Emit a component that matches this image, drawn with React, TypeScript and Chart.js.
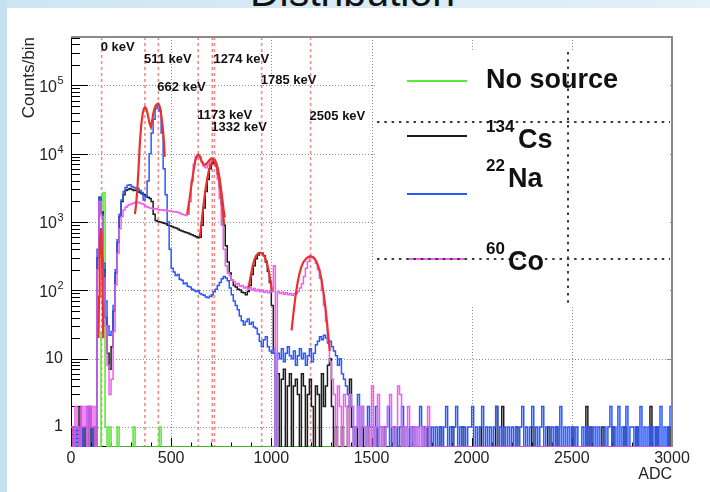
import React, { useEffect, useRef } from 'react';
import { Chart, registerables } from 'chart.js';

Chart.register(...registerables);

const FONT = '"Liberation Sans", Arial, Helvetica, sans-serif';

// ---- axes ----
const X_MIN = 0;
const X_MAX = 3000;
const Y_MIN = 0.51;
const Y_MAX = 5.1e5;
const xTickValues = [0, 500, 1000, 1500, 2000, 2500, 3000];
const xMinorStep = 100;
const yDecadeExponents = [0, 1, 2, 3, 4, 5];

// ---- histogram binning (ADC) ----
const BIN_WIDTH = 10;
const MAIN_START = 0;
const TAIL_START = 1400;

// ---- series counts per bin ----
// No source, bins from 0 ADC
const noSourceMain = [
  0, 0, 0, 0, 0, 0, 0, 0, 0, 0,
  0, 0, 0, 0, 0, 25, 2700, 1, 0, 1,
  0, 0, 0, 1, 0, 0, 0, 0, 0, 0,
  0, 1, 0, 0, 0, 0, 0, 0, 0, 0,
  0, 0, 0, 0, 1, 0, 0, 0, 0, 0,
];

// 134Cs, bins from 0 ADC
const cs134Main = [
  0, 1, 0, 0, 2, 0, 1, 0, 0, 2,
  0, 1, 0, 300, 2300, 1400, 200, 40, 12, 7,
  15, 50, 180, 500, 1200, 2000, 2500, 2900, 3000, 3100,
  3000, 2900, 2950, 2800, 2700, 2600, 2500, 2400, 2300, 2200,
  2000, 1300, 1050, 1020, 1000, 980, 960, 940, 900, 880,
  860, 830, 820, 790, 760, 740, 720, 700, 690, 670,
  650, 630, 610, 590, 600, 900, 1600, 2800, 4200, 6000,
  7200, 7500, 6800, 5000, 3200, 1800, 900, 450, 260, 180,
  140, 118, 112, 104, 101, 94, 92, 86, 96, 118,
  170, 230, 290, 330, 350, 350, 320, 260, 190, 130,
  60, 12, 0, 6, 0, 5, 7, 0, 4, 6,
  0, 4, 5, 3, 0, 6, 4, 0, 3, 5,
  2, 0, 4, 3, 0, 6, 2, 4, 8, 10,
  2, 0, 1, 0, 0, 1, 0, 0, 2, 5,
];
// 134Cs, bins from 1400 ADC
const cs134Tail = [
  1, 0, 1, 0, 0, 1, 0, 0, 1, 0,
  0, 0, 1, 0, 0, 0, 1, 0, 0, 0,
  0, 1, 0, 0, 0, 1, 0, 0, 0, 0,
  1, 0, 0, 0, 0, 0, 1, 0, 1, 0,
  0, 0, 0, 0, 1, 0, 0, 0, 0, 0,
  1, 0, 0, 0, 0, 1, 0, 0, 0, 0,
  0, 0, 0, 0, 1, 0, 0, 0, 0, 0,
  0, 0, 2, 0, 0, 2, 0, 0, 0, 0,
  0, 0, 1, 0, 0, 0, 0, 0, 0, 0,
  1, 0, 0, 0, 0, 0, 0, 0, 1, 0,
  0, 0, 1, 0, 0, 0, 0, 0, 0, 0,
  1, 0, 0, 0, 0, 0, 0, 2, 0, 1,
  0, 0, 0, 0, 0, 1, 0, 0, 0, 0,
  1, 0, 0, 0, 0, 0, 1, 0, 0, 0,
  0, 0, 1, 0, 0, 0, 0, 0, 0, 2,
  0, 0, 1, 0, 0, 0, 0, 0, 1, 0,
];

// 22Na, bins from 0 ADC
const na22Main = [
  0, 0, 1, 0, 0, 1, 0, 0, 2, 0,
  0, 1, 1, 400, 2300, 1300, 250, 70, 30, 22,
  25, 60, 200, 550, 1300, 2100, 2800, 3200, 3450, 3500,
  3300, 3200, 3150, 3100, 2900, 2700, 2100, 2400, 4000, 10000,
  20000, 32000, 46000, 52000, 42000, 20000, 6000, 2500, 1000, 400,
  210, 185, 165, 170, 145, 140, 125, 128, 115, 112,
  104, 100, 96, 99, 90, 87, 85, 80, 78, 82,
  86, 95, 104, 118, 130, 148, 160, 152, 138, 108,
  86, 70, 60, 52, 42, 36, 31, 35, 38, 32,
  34, 29, 28, 23, 18, 15, 19, 21, 15, 13,
  12, 14, 0, 12, 10, 14, 9, 12, 15, 11,
  10, 13, 8, 11, 14, 10, 12, 8, 11, 14,
  9, 12, 16, 18, 21, 19, 22, 20, 17, 18,
  15, 13, 11, 8, 10, 6, 5, 4, 3, 2,
];
// 22Na, bins from 1400 ADC
const na22Tail = [
  2, 0, 1, 3, 0, 2, 1, 0, 2, 1,
  1, 0, 2, 0, 1, 1, 0, 1, 2, 0,
  1, 0, 1, 0, 1, 2, 0, 1, 0, 1,
  0, 1, 0, 1, 2, 0, 1, 0, 1, 0,
  1, 0, 1, 0, 1, 0, 1, 2, 0, 1,
  0, 1, 2, 0, 1, 0, 1, 0, 1, 1,
  2, 0, 1, 0, 1, 2, 0, 1, 0, 1,
  0, 1, 2, 0, 1, 0, 1, 0, 1, 0,
  1, 0, 1, 0, 1, 2, 0, 1, 0, 1,
  2, 0, 1, 0, 1, 2, 0, 1, 1, 0,
  1, 0, 1, 0, 2, 0, 1, 0, 1, 0,
  1, 0, 1, 0, 0, 1, 0, 1, 0, 1,
  0, 1, 0, 1, 0, 0, 1, 0, 1, 2,
  0, 1, 0, 2, 0, 1, 0, 2, 0, 1,
  1, 0, 1, 0, 2, 0, 1, 0, 1, 0,
  1, 0, 1, 0, 2, 0, 1, 0, 1, 2,
];

// 60Co, bins from 0 ADC
const co60Main = [
  1, 0, 2, 1, 0, 2, 1, 2, 0, 2,
  1, 2, 0, 200, 2000, 1200, 150, 30, 8, 3,
  5, 25, 120, 350, 800, 1200, 1500, 1650, 1750, 1800,
  1850, 1900, 1950, 1950, 1900, 1850, 1800, 1700, 1650, 1600,
  1580, 1550, 1560, 1520, 1500, 1510, 1480, 1500, 1450, 1460,
  1420, 1400, 1410, 1380, 1350, 1300, 1280, 1250, 1300, 2000,
  4000, 7000, 9000, 9500, 9000, 7500, 6500, 6200, 6800, 7800,
  8300, 8000, 6500, 4200, 2200, 900, 400, 230, 180, 165,
  140, 135, 122, 126, 115, 118, 108, 112, 104, 109,
  100, 106, 98, 103, 96, 101, 94, 99, 92, 97,
  95, 230, 0, 96, 90, 94, 88, 92, 86, 90,
  85, 89, 90, 96, 108, 125, 160, 210, 265, 300,
  310, 290, 250, 200, 150, 100, 60, 35, 18, 9,
  5, 3, 0, 4, 2, 0, 3, 2, 0, 3,
];
// 60Co, bins from 1400 ADC
const co60Tail = [
  2, 0, 1, 2, 0, 2, 1, 0, 1, 0,
  4, 0, 1, 3, 0, 1, 0, 1, 2, 3,
  1, 0, 1, 4, 3, 0, 1, 0, 2, 1,
  0, 1, 0, 1, 0, 1, 0, 1, 2, 0,
];

// ---- fitted peak curves: [ADC, counts] ----
const fitZeroKeV = [
  [137, 20], [140, 80], [143, 300], [146, 650], [149, 820], [152, 680],
  [155, 300], [158, 80], [161, 20],
];
const fit511And662 = [
  [319, 1300], [325, 1800], [331, 3000], [337, 6000], [344, 15000], [351, 27000],
  [358, 39000], [364, 46000], [369, 48000], [375, 46000], [381, 40000], [386, 34000],
  [392, 28000], [399, 24500], [405, 30000], [410, 38000], [415, 44000], [422, 50000],
  [429, 53000], [436, 54000], [442, 50000], [447, 43000], [452, 34000], [458, 24000],
  [464, 15000], [468, 9000],
];
const fitCo60Pair = [
  [580, 1300], [590, 2000], [600, 3300], [610, 5200], [620, 7800], [628, 9300],
  [635, 9700], [642, 9200], [650, 8000], [660, 7000], [670, 6900], [680, 7300],
  [690, 8000], [700, 8500], [710, 8400], [720, 7500], [730, 6000], [740, 4300],
  [750, 2600], [758, 1400], [765, 900],
];
const fitCsPeak = [
  [643, 600], [652, 1000], [660, 1650], [670, 2800], [680, 4300], [690, 6000],
  [700, 7200], [710, 7900], [719, 8000], [728, 7000], [737, 5300], [746, 3500],
  [755, 2200], [762, 1500], [768, 1170],
];
const fitSum1785 = [
  [886, 110], [895, 150], [905, 215], [915, 280], [925, 325], [935, 348],
  [945, 355], [955, 345], [965, 318], [975, 270], [985, 205], [995, 140], [1003, 100],
];
const fitSum2505 = [
  [1101, 26], [1110, 45], [1120, 80], [1130, 125], [1140, 175], [1150, 220],
  [1160, 260], [1175, 295], [1190, 315], [1200, 315], [1212, 300], [1226, 260],
  [1240, 200], [1251, 140], [1262, 85], [1272, 50], [1282, 25], [1292, 13],
];

// ---- energy markers ----
const energyLabels = ['0 keV', '511 keV', '662 keV', '1173 keV', '1274 keV', '1332 keV', '1785 keV', '2505 keV'];
const energyAdc = [153, 369, 436, 635, 716, 705, 952, 1196];
const energyLabelCounts = [3.6e5, 2.4e5, 9.4e4, 3.6e4, 2.4e5, 2.4e4, 1.18e5, 3.5e4];

// ---- legend ----
const legendSup = ['', '134', '22', '60'];
const legendBase = ['No source', 'Cs', 'Na', 'Co'];

const COLORS = {
  green: '#5ee83c',
  black: '#1c1c1c',
  blue: '#2a58ff',
  magenta: '#f05cf0',
  red: '#e8332c',
};
const legendColors = [COLORS.green, COLORS.black, COLORS.blue, COLORS.magenta];
// legend layout (px offsets inside the legend box)
const legendLineY = [29, 84, 142, 207];
const legendSupY = [0, 75.5, 114.5, 197];
const legendBaseX = [110, 142, 132, 132];
const legendBaseY = [29, 89, 128, 210.5];

function histogramPoints(counts: number[], start: number) {
  const pts: { x: number; y: number }[] = [];
  counts.forEach((c, i) => {
    const lo = start + i * BIN_WIDTH;
    const v = c > 0 ? c : Y_MIN;
    pts.push({ x: lo, y: v }, { x: lo + BIN_WIDTH, y: v });
  });
  return pts;
}

function seriesPoints(parts: [number[], number][]) {
  let pts: { x: number; y: number }[] = [];
  parts.forEach(([counts, start]) => {
    pts = pts.concat(histogramPoints(counts, start));
  });
  const last = pts[pts.length - 1];
  if (last.x < X_MAX) {
    pts.push({ x: last.x, y: Y_MIN }, { x: X_MAX, y: Y_MIN });
  }
  return pts;
}

function fitPoints(pairs: number[][]) {
  return pairs.map(([x, y]) => ({ x, y }));
}

const rootStylePlugin = {
  id: 'rootStyle',
  beforeDatasetsDraw(chart: any) {
    const { ctx, chartArea: a } = chart;
    const xs = chart.scales.x;
    const ys = chart.scales.y;
    ctx.save();
    // dotted grid
    ctx.strokeStyle = '#8e8e8e';
    ctx.lineWidth = 1;
    ctx.setLineDash([1, 2]);
    ctx.beginPath();
    xTickValues.forEach((v) => {
      if (v <= X_MIN || v >= X_MAX) return;
      const px = Math.round(xs.getPixelForValue(v)) + 0.5;
      ctx.moveTo(px, a.top);
      ctx.lineTo(px, a.bottom);
    });
    yDecadeExponents.forEach((e) => {
      const py = Math.round(ys.getPixelForValue(Math.pow(10, e))) + 0.5;
      ctx.moveTo(a.left, py);
      ctx.lineTo(a.right, py);
    });
    ctx.stroke();

    // energy marker lines
    ctx.strokeStyle = 'rgba(240, 110, 110, 0.8)';
    ctx.lineWidth = 1.6;
    ctx.setLineDash([3, 3]);
    ctx.beginPath();
    energyAdc.forEach((adc) => {
      const px = xs.getPixelForValue(adc);
      ctx.moveTo(px, a.top);
      ctx.lineTo(px, a.bottom);
    });
    ctx.stroke();

    // axes lines and ticks
    ctx.setLineDash([]);
    ctx.strokeStyle = '#000';
    ctx.lineWidth = 1;
    ctx.beginPath();
    ctx.moveTo(a.left + 0.5, a.top);
    ctx.lineTo(a.left + 0.5, a.bottom);
    ctx.moveTo(a.left, a.bottom - 0.5);
    ctx.lineTo(a.right, a.bottom - 0.5);
    // y ticks (log)
    for (let e = -1; e <= 5; e++) {
      for (let m = 1; m <= 9; m++) {
        const v = m * Math.pow(10, e);
        if (v < Y_MIN || v > Y_MAX) continue;
        const py = Math.round(ys.getPixelForValue(v)) + 0.5;
        const len = m === 1 ? 17 : 9;
        ctx.moveTo(a.left, py);
        ctx.lineTo(a.left + len, py);
      }
    }
    // x ticks
    for (let v = X_MIN; v <= X_MAX; v += xMinorStep) {
      const px = Math.round(xs.getPixelForValue(v)) + 0.5;
      const len = v % 500 === 0 ? 9 : 4.5;
      ctx.moveTo(px, a.bottom);
      ctx.lineTo(px, a.bottom - len);
    }
    ctx.stroke();
    // right-side decade ticks
    ctx.strokeStyle = '#8a8a8a';
    ctx.beginPath();
    yDecadeExponents.forEach((e) => {
      const py = Math.round(ys.getPixelForValue(Math.pow(10, e))) + 0.5;
      ctx.moveTo(a.right - 5, py);
      ctx.lineTo(a.right, py);
    });
    ctx.stroke();
    ctx.restore();
  },
  afterDatasetsDraw(chart: any) {
    const { ctx, chartArea: a } = chart;
    const xs = chart.scales.x;
    const ys = chart.scales.y;
    const W = a.right - a.left;
    const H = a.bottom - a.top;
    ctx.save();

    // energy labels
    ctx.fillStyle = '#111';
    ctx.font = `bold 13px ${FONT}`;
    ctx.textAlign = 'left';
    ctx.textBaseline = 'middle';
    energyLabels.forEach((t, i) => {
      ctx.fillText(t, xs.getPixelForValue(energyAdc[i]) - 1, ys.getPixelForValue(energyLabelCounts[i]));
    });

    // legend box
    const bx0 = a.left + 0.5075 * W;
    const bx1 = a.left + 0.9967 * W;
    const by0 = a.top + 0.0366 * H;
    const by1 = a.top + 0.6585 * H;
    ctx.fillStyle = '#fff';
    ctx.fillRect(bx0, by0, bx1 - bx0, by1 - by0);

    legendColors.forEach((c, i) => {
      ctx.strokeStyle = c;
      ctx.lineWidth = 2;
      ctx.beginPath();
      ctx.moveTo(bx0 + 31, by0 + legendLineY[i]);
      ctx.lineTo(bx0 + 91, by0 + legendLineY[i]);
      ctx.stroke();
    });

    // dotted lines across the legend
    ctx.strokeStyle = '#3a3a3a';
    ctx.lineWidth = 2;
    ctx.setLineDash([2.5, 4.8]);
    ctx.beginPath();
    ctx.moveTo(bx0 + 1, by0 + 70);
    ctx.lineTo(bx1, by0 + 70);
    ctx.moveTo(bx0 + 1, by0 + 207);
    ctx.lineTo(bx1, by0 + 207);
    ctx.moveTo(bx0 + 192, by0);
    ctx.lineTo(bx0 + 192, by1);
    ctx.stroke();
    ctx.setLineDash([]);

    ctx.fillStyle = '#111';
    ctx.textAlign = 'left';
    ctx.textBaseline = 'middle';
    legendBase.forEach((t, i) => {
      if (legendSup[i]) {
        ctx.font = `bold 17px ${FONT}`;
        ctx.fillText(legendSup[i], bx0 + 110, by0 + legendSupY[i]);
      }
      ctx.font = `bold 27px ${FONT}`;
      ctx.fillText(t, bx0 + legendBaseX[i], by0 + legendBaseY[i]);
    });

    // top and right frame
    ctx.strokeStyle = '#8a8a8a';
    ctx.lineWidth = 2;
    ctx.beginPath();
    ctx.moveTo(a.left, a.top);
    ctx.lineTo(a.right, a.top);
    ctx.lineTo(a.right, a.bottom);
    ctx.stroke();

    // tick labels
    ctx.fillStyle = '#222';
    ctx.font = `16px ${FONT}`;
    ctx.textAlign = 'center';
    ctx.textBaseline = 'middle';
    xTickValues.forEach((v) => {
      ctx.fillText(String(v), xs.getPixelForValue(v), a.bottom + 12);
    });
    yDecadeExponents.forEach((e) => {
      const py = ys.getPixelForValue(Math.pow(10, e));
      if (e <= 1) {
        ctx.font = `16px ${FONT}`;
        ctx.textAlign = 'right';
        ctx.fillText(e === 0 ? '1' : '10', a.left - 8, py);
      } else {
        ctx.font = `16px ${FONT}`;
        ctx.textAlign = 'right';
        ctx.fillText('10', a.left - 14, py + 2);
        ctx.font = `11px ${FONT}`;
        ctx.textAlign = 'left';
        ctx.fillText(String(e), a.left - 13.5, py - 4);
      }
    });

    // axis titles
    ctx.font = `16px ${FONT}`;
    ctx.textAlign = 'right';
    ctx.fillText('ADC', a.right, a.bottom + 28);
    ctx.save();
    ctx.translate(a.left - 41.5, a.top);
    ctx.rotate(-Math.PI / 2);
    ctx.font = `17px ${FONT}`;
    ctx.textAlign = 'right';
    ctx.textBaseline = 'middle';
    ctx.fillText('Counts/bin', 0, 0);
    ctx.restore();

    ctx.restore();
  },
};

export default function App() {
  const ref = useRef<HTMLCanvasElement | null>(null);

  useEffect(() => {
    if (!ref.current) return;
    const histStyle = (color: string, width: number, order: number) => ({
      borderColor: color,
      backgroundColor: color,
      borderWidth: width,
      pointRadius: 0,
      fill: false,
      tension: 0,
      order,
    });
    const datasets = [
      { label: 'No source', data: seriesPoints([[noSourceMain, MAIN_START]]), ...histStyle(COLORS.green, 1.6, 4) },
      { label: '134Cs', data: seriesPoints([[cs134Main, MAIN_START], [cs134Tail, TAIL_START]]), ...histStyle(COLORS.black, 1.5, 3) },
      { label: '22Na', data: seriesPoints([[na22Main, MAIN_START], [na22Tail, TAIL_START]]), ...histStyle(COLORS.blue, 1.5, 2) },
      { label: '60Co', data: seriesPoints([[co60Main, MAIN_START], [co60Tail, TAIL_START]]), ...histStyle(COLORS.magenta, 1.5, 1) },
      { label: 'fit0', data: fitPoints(fitZeroKeV), ...histStyle(COLORS.red, 2.2, 0) },
      { label: 'fit1', data: fitPoints(fit511And662), ...histStyle(COLORS.red, 2.2, 0) },
      { label: 'fit2', data: fitPoints(fitCo60Pair), ...histStyle(COLORS.red, 2.2, 0) },
      { label: 'fit3', data: fitPoints(fitCsPeak), ...histStyle(COLORS.red, 2.2, 0) },
      { label: 'fit4', data: fitPoints(fitSum1785), ...histStyle(COLORS.red, 2.2, 0) },
      { label: 'fit5', data: fitPoints(fitSum2505), ...histStyle(COLORS.red, 2.2, 0) },
    ];
    const chart = new Chart(ref.current, {
      type: 'line',
      data: { datasets },
      options: {
        animation: false,
        responsive: false,
        devicePixelRatio: 1,
        events: [],
        layout: { padding: { left: 71, top: 37, right: 38, bottom: 45 } },
        scales: {
          x: { type: 'linear', min: X_MIN, max: X_MAX, display: false },
          y: { type: 'logarithmic', min: Y_MIN, max: Y_MAX, display: false },
        },
        plugins: { legend: { display: false }, tooltip: { enabled: false } },
      },
      plugins: [rootStylePlugin],
    } as any);
    return () => chart.destroy();
  }, []);

  return (
    <div
      style={{
        position: 'fixed',
        left: 0,
        top: 0,
        width: 710,
        height: 492,
        background: '#ffffff',
        overflow: 'hidden',
      }}
    >
      <div style={{ position: 'absolute', left: 0, top: 0, width: 710, height: 8, background: 'linear-gradient(90deg, #cde5f3, #e3f1f8)' }} />
      <div style={{ position: 'absolute', left: 0, top: 0, width: 7, height: 492, background: '#c4e0f1' }} />
      <div
        style={{
          position: 'absolute',
          left: 250,
          top: -28,
          fontFamily: FONT,
          fontSize: 41,
          lineHeight: '41px',
          color: '#111',
          whiteSpace: 'nowrap',
        }}
      >
        Distribution
      </div>
      <canvas
        ref={ref}
        width={710}
        height={492}
        style={{ position: 'absolute', left: 0, top: 0, width: 710, height: 492 }}
      />
    </div>
  );
}
